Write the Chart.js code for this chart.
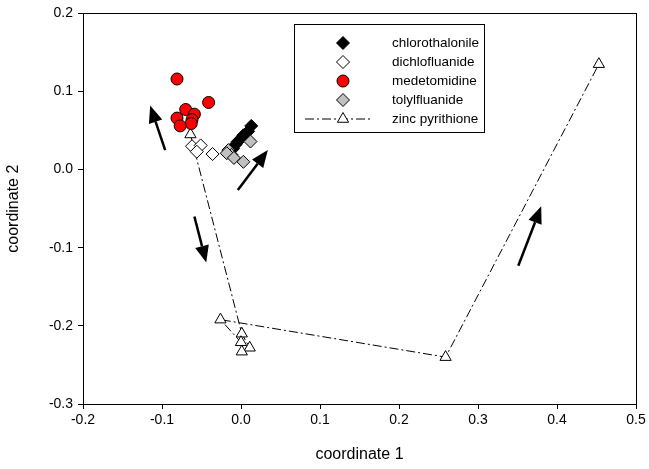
<!DOCTYPE html>
<html>
<head>
<meta charset="utf-8">
<script src="https://cdn.jsdelivr.net/npm/chart.js@4.4.1/dist/chart.umd.min.js"></script>
<style>
  html, body { margin: 0; padding: 0; background: #fff; }
  #ordination { display: block; }
</style>
</head>
<body>
<canvas id="ordination" width="649" height="469"></canvas>
<script>
// MDS coordinates per biocide
const chloroX = [0.013, 0.009, 0.003, 0.000, -0.004, -0.007, -0.010];
const chloroY = [0.056, 0.049, 0.044, 0.040, 0.036, 0.032, 0.027];

const dichloX = [-0.062, -0.051, -0.056, -0.036];
const dichloY = [0.030, 0.031, 0.023, 0.020];

const medetX = [-0.081, -0.041, -0.070, -0.059, -0.062, -0.081, -0.063, -0.077];
const medetY = [0.116, 0.086, 0.077, 0.071, 0.064, 0.066, 0.059, 0.056];

const tolylX = [0.012, -0.016, -0.012, -0.018, 0.003, -0.009];
const tolylY = [0.036, 0.025, 0.019, 0.021, 0.010, 0.015];

// zinc pyrithione, in sampling order (joined by the dash-dot line)
const zincX = [-0.064, 0.001, 0.011, 0.001, 0.000, -0.026, 0.259, 0.453];
const zincY = [0.045, -0.210, -0.228, -0.233, -0.221, -0.192, -0.240, 0.135];

// direction arrows: [tailX, tailY, tipX, tipY]
const arrows = [
  [-0.096, 0.025, -0.115, 0.082],
  [-0.004, -0.026, 0.034, 0.025],
  [-0.059, -0.060, -0.044, -0.119],
  [0.351, -0.123, 0.380, -0.047]
];

const xTicks = [-0.2, -0.1, 0.0, 0.1, 0.2, 0.3, 0.4, 0.5];
const yTicks = [-0.3, -0.2, -0.1, 0.0, 0.1, 0.2];

const FONT = "'Liberation Sans', Arial, Helvetica, sans-serif";

function pts(xs, ys) {
  return xs.map((x, i) => ({ x: x, y: ys[i] }));
}

function fmt(v) {
  if (Math.abs(v) < 1e-9) return '0.0';
  return v.toFixed(1);
}

const datasets = [
  {
    label: 'chlorothalonile',
    data: pts(chloroX, chloroY),
    pointStyle: 'rectRot',
    pointRadius: 6.5,
    backgroundColor: '#000000',
    borderColor: '#000000',
    borderWidth: 1,
    order: 4
  },
  {
    label: 'dichlofluanide',
    data: pts(dichloX, dichloY),
    pointStyle: 'rectRot',
    pointRadius: 6.5,
    backgroundColor: '#ffffff',
    borderColor: '#000000',
    borderWidth: 1,
    order: 3
  },
  {
    label: 'medetomidine',
    data: pts(medetX, medetY),
    pointStyle: 'circle',
    pointRadius: 6,
    backgroundColor: '#ff0000',
    borderColor: '#000000',
    borderWidth: 1,
    order: 1
  },
  {
    label: 'tolylfluanide',
    data: pts(tolylX, tolylY),
    pointStyle: 'rectRot',
    pointRadius: 6.5,
    backgroundColor: '#c0c0c0',
    borderColor: '#000000',
    borderWidth: 1,
    order: 2
  },
  {
    label: 'zinc pyrithione',
    data: pts(zincX, zincY),
    showLine: true,
    borderColor: '#000000',
    borderWidth: 1,
    borderDash: [9, 3, 2, 3],
    pointStyle: 'triangle',
    pointRadius: 6.5,
    pointBackgroundColor: '#ffffff',
    pointBorderColor: '#000000',
    pointBorderWidth: 1,
    order: 5
  }
];

// full box around the plot area
const frame = {
  id: 'frame',
  beforeDatasetsDraw(chart) {
    const { ctx, chartArea: a } = chart;
    ctx.save();
    ctx.strokeStyle = '#000';
    ctx.lineWidth = 1;
    ctx.strokeRect(Math.round(a.left) + 0.5, Math.round(a.top) + 0.5,
      Math.round(a.right - a.left), Math.round(a.bottom - a.top));
    ctx.restore();
  }
};

// black arrows showing the time direction
const arrowPlugin = {
  id: 'arrows',
  afterDatasetsDraw(chart) {
    const { ctx, scales } = chart;
    ctx.save();
    ctx.strokeStyle = '#000';
    ctx.fillStyle = '#000';
    ctx.lineWidth = 2.5;
    arrows.forEach(a => {
      const x0 = scales.x.getPixelForValue(a[0]);
      const y0 = scales.y.getPixelForValue(a[1]);
      const x1 = scales.x.getPixelForValue(a[2]);
      const y1 = scales.y.getPixelForValue(a[3]);
      const ang = Math.atan2(y1 - y0, x1 - x0);
      const headLen = 17, headW = 7;
      const bx = x1 - headLen * Math.cos(ang);
      const by = y1 - headLen * Math.sin(ang);
      ctx.beginPath();
      ctx.moveTo(x0, y0);
      ctx.lineTo(bx, by);
      ctx.stroke();
      ctx.beginPath();
      ctx.moveTo(x1, y1);
      ctx.lineTo(bx + headW * Math.sin(ang), by - headW * Math.cos(ang));
      ctx.lineTo(bx - headW * Math.sin(ang), by + headW * Math.cos(ang));
      ctx.closePath();
      ctx.fill();
    });
    ctx.restore();
  }
};

// boxed legend in the upper part of the plot
const legendBox = {
  id: 'legendBox',
  afterDraw(chart) {
    const ctx = chart.ctx;
    const left = 294, top = 24, right = 484, bottom = 132;
    const rowY = [43, 62, 81, 100, 119];
    const markX = 343, textX = 392;
    ctx.save();
    ctx.fillStyle = '#fff';
    ctx.fillRect(left, top, right - left, bottom - top);
    ctx.strokeStyle = '#000';
    ctx.lineWidth = 1;
    ctx.strokeRect(left + 0.5, top + 0.5, right - left, bottom - top);
    datasets.forEach((ds, i) => {
      const y = rowY[i];
      if (ds.showLine) {
        ctx.save();
        ctx.setLineDash(ds.borderDash);
        ctx.lineWidth = ds.borderWidth;
        ctx.strokeStyle = ds.borderColor;
        ctx.beginPath();
        ctx.moveTo(305, y);
        ctx.lineTo(370, y);
        ctx.stroke();
        ctx.restore();
      }
      ctx.fillStyle = ds.pointBackgroundColor || ds.backgroundColor;
      ctx.strokeStyle = '#000';
      ctx.lineWidth = 1;
      Chart.helpers.drawPoint(ctx, {
        pointStyle: ds.pointStyle,
        radius: ds.pointRadius,
        rotation: 0,
        borderWidth: 1
      }, markX, y);
      ctx.fillStyle = '#000';
      ctx.font = '13.5px ' + FONT;
      ctx.textAlign = 'left';
      ctx.textBaseline = 'middle';
      ctx.fillText(ds.label, textX, y);
    });
    ctx.restore();
  }
};

new Chart(document.getElementById('ordination'), {
  type: 'scatter',
  data: { datasets: datasets },
  options: {
    responsive: false,
    animation: false,
    layout: { padding: { top: 11, right: 13, left: 0, bottom: 0 } },
    plugins: {
      legend: { display: false },
      tooltip: { enabled: false }
    },
    scales: {
      x: {
        type: 'linear',
        min: xTicks[0],
        max: xTicks[xTicks.length - 1],
        afterFit: s => { s.height = 65; },
        afterBuildTicks: s => { s.ticks = xTicks.map(v => ({ value: v })); },
        ticks: {
          callback: fmt,
          color: '#000',
          padding: 3,
          maxRotation: 0,
          font: { family: FONT, size: 14 }
        },
        grid: { drawOnChartArea: false, tickLength: 5, color: '#000' },
        border: { display: true, color: '#000' },
        title: {
          display: true,
          text: 'coordinate 1',
          color: '#000',
          font: { family: FONT, size: 16, lineHeight: 1 },
          padding: { top: 0, bottom: 6 }
        }
      },
      y: {
        type: 'linear',
        min: yTicks[0],
        max: yTicks[yTicks.length - 1],
        afterFit: s => { s.width = 83; },
        afterBuildTicks: s => { s.ticks = yTicks.map(v => ({ value: v })); },
        ticks: {
          callback: fmt,
          color: '#000',
          padding: 5,
          font: { family: FONT, size: 14 }
        },
        grid: { drawOnChartArea: false, tickLength: 5, color: '#000' },
        border: { display: true, color: '#000' },
        title: {
          display: true,
          text: 'coordinate 2',
          color: '#000',
          font: { family: FONT, size: 16, lineHeight: 1 },
          padding: { top: 6, bottom: 0 }
        }
      }
    }
  },
  plugins: [frame, arrowPlugin, legendBox]
});
</script>
</body>
</html>
